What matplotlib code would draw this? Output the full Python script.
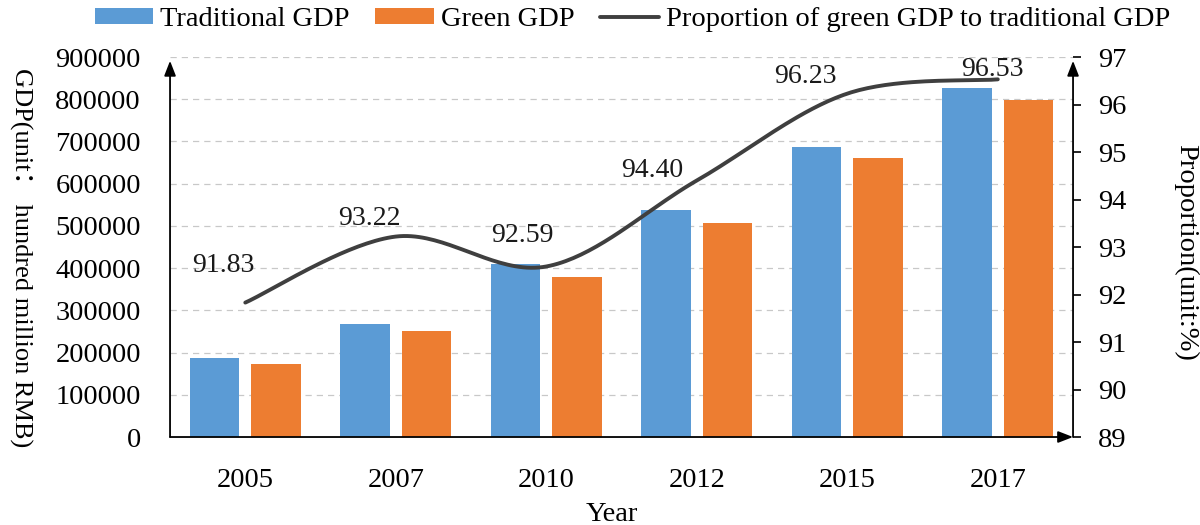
import matplotlib
matplotlib.use("Agg")
import matplotlib.pyplot as plt
import numpy as np

years = ["2005", "2007", "2010", "2012", "2015", "2017"]
traditional_gdp = [186500, 268000, 410000, 538000, 686000, 826000]
green_gdp = [173000, 251000, 378500, 506500, 660500, 798500]
proportion = [91.83, 93.22, 92.59, 94.40, 96.23, 96.53]
prop_labels = ["91.83", "93.22", "92.59", "94.40", "96.23", "96.53"]

plt.rcParams['font.family'] = ['Liberation Serif', 'Noto Sans CJK SC', 'DejaVu Sans']

blue = '#5B9BD5'
orange = '#ED7D31'
line_c = '#3F3F3F'
fs = 20.5

fig = plt.figure(figsize=(12, 5.25), dpi=100)
ax = fig.add_axes([0.1417, 0.1676, 0.7525, 0.7238])
ax2 = ax.twinx()

x = np.arange(len(years))
w = 0.33
ax.bar(x - 0.205, traditional_gdp, width=w, color=blue, label='Traditional GDP', zorder=2)
ax.bar(x + 0.205, green_gdp, width=w, color=orange, label='Green GDP', zorder=2)

ax.set_xlim(-0.5, 5.5)
ax.set_ylim(0, 900000)
ax.set_yticks(np.arange(0, 900001, 100000))
ax.set_xticks(x)
ax.set_xticklabels(years)
ax.grid(axis='y', linestyle=(0, (5, 4)), color='#C8C8C8', linewidth=0.9, zorder=0)
ax.set_axisbelow(True)
ax.tick_params(axis='y', length=0, pad=21, labelsize=fs)
ax.tick_params(axis='x', length=0, pad=22, labelsize=fs)
for s in ax.spines.values():
    s.set_visible(False)

# smoothed line (Catmull-Rom through the data points, like Excel's smoothed line)
px = np.array(x, dtype=float)
py = np.array(proportion)
P = np.vstack([px, py]).T
Pe = np.vstack([P[0], P, P[-1]])
xs, ys = [], []
t = np.linspace(0, 1, 40)
for i in range(len(P) - 1):
    p0, p1, p2, p3 = Pe[i], Pe[i + 1], Pe[i + 2], Pe[i + 3]
    c1 = p1 + (p2 - p0) / 6
    c2 = p2 - (p3 - p1) / 6
    b = ((1 - t) ** 3)[:, None] * p1 + (3 * (1 - t) ** 2 * t)[:, None] * c1 \
        + (3 * (1 - t) * t ** 2)[:, None] * c2 + (t ** 3)[:, None] * p2
    xs.extend(b[:, 0]); ys.extend(b[:, 1])
ax2.plot(xs, ys, color=line_c, linewidth=2.8, solid_capstyle='round', zorder=3,
         label='Proportion of green GDP to traditional GDP')

offsets = [(-16, 27), (-19, 13), (-17, 22), (-32, 7), (-30, 12), (-4, 7)]
for xi, yi, lab, off in zip(x, proportion, prop_labels, offsets):
    ax2.annotate(lab, (xi, yi), xytext=off, textcoords='offset points',
                 ha='center', va='center', fontsize=20, color='#1a1a1a')

ax2.set_ylim(89, 97)
ax2.set_yticks(np.arange(89, 98, 1))
ax2.tick_params(axis='y', length=6, width=1.2, direction='out', pad=12, labelsize=fs)
for s in ax2.spines.values():
    s.set_visible(False)

# axis lines with arrows
arrow = dict(arrowstyle='-|>,head_width=0.35,head_length=0.9', color='black', lw=1.3,
             shrinkA=0, shrinkB=0)
ax.annotate('', xy=(0, 0.99), xytext=(0, 0), xycoords='axes fraction', arrowprops=arrow)
ax.annotate('', xy=(1, 0), xytext=(0, 0), xycoords='axes fraction', arrowprops=arrow)
ax.annotate('', xy=(1, 0.99), xytext=(1, 0), xycoords='axes fraction', arrowprops=arrow)

fig.text(0.017, 0.51, 'GDP(unit： hundred million RMB)', rotation=270, ha='center',
         va='center', fontsize=19)
fig.text(0.988, 0.52, 'Proportion(unit:%)', rotation=270, ha='center', va='center',
         fontsize=fs)
fig.text(0.51, 0.02, 'Year', ha='center', va='center', fontsize=fs)

h1, l1 = ax.get_legend_handles_labels()
h2, l2 = ax2.get_legend_handles_labels()
fig.legend(h1 + h2, l1 + l2, loc='upper center', bbox_to_anchor=(0.527, 1.035), ncol=3,
           frameon=False, fontsize=fs, handlelength=2.05, handleheight=0.5,
           columnspacing=0.9, handletextpad=0.25)

fig.savefig('out.png', dpi=100)
